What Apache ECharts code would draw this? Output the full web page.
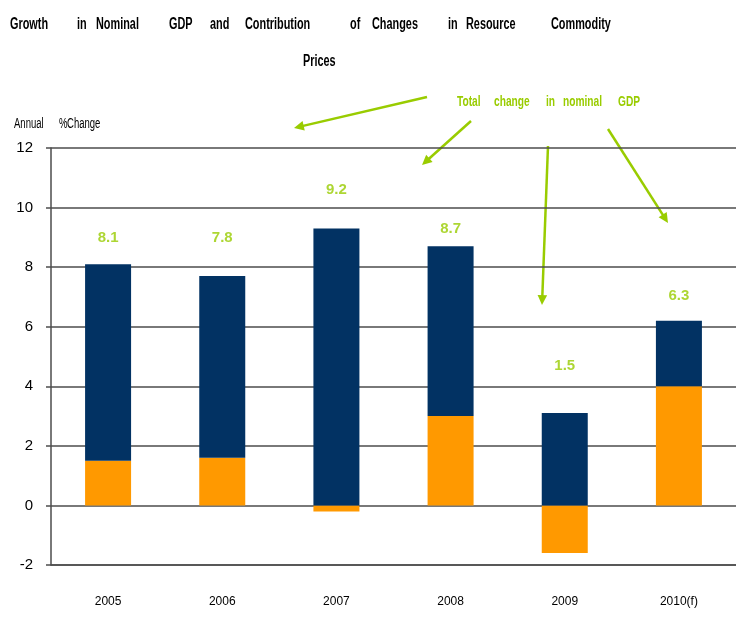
<!DOCTYPE html>
<html>
<head>
<meta charset="utf-8">
<script src="https://cdn.jsdelivr.net/npm/echarts@6/dist/echarts.min.js"></script>
<style>
  html, body { margin: 0; padding: 0; background: #ffffff; }
  #gdpChart { width: 736px; height: 617px; }
</style>
</head>
<body>
<div id="gdpChart"></div>
<script>
// data
let years = ["2005", "2006", "2007", "2008", "2009", "2010(f)"];
let commodityContribution = [1.5, 1.6, -0.2, 3.0, -1.6, 4.0];
let otherContribution = [6.6, 6.1, 9.3, 5.7, 3.1, 2.2];
let totalLabels = ["8.1", "7.8", "9.2", "8.7", "1.5", "6.3"];
let labelHeights = [8.97, 8.97, 10.6, 9.3, 4.67, 7.05];
let yTicks = { min: -2, max: 12, step: 2 };

let font = "'Liberation Sans', Arial, sans-serif";
let green = "#99cc00";

// title words are spread out like the justified text in the original
let titleWords = [
  ["Growth", 10, 25], ["in", 77, 25], ["Nominal", 96, 25], ["GDP", 169, 25],
  ["and", 210, 25], ["Contribution", 245, 25], ["of", 350, 25], ["Changes", 372, 25],
  ["in", 448, 25], ["Resource", 466, 25], ["Commodity", 551, 25], ["Prices", 303, 62]
];
let noteWords = [["Total", 457], ["change", 494], ["in", 546], ["nominal", 563], ["GDP", 618]];
let unitWords = [["Annual", 14], ["%", 59], ["Change", 67]];
let arrows = [
  [427, 97, 294, 128],
  [471, 121, 422, 165],
  [548, 146, 542, 305],
  [608, 129, 668, 223]
];

function narrowText(text, x, y, size, weight, color) {
  return {
    type: "text", x: x, y: y, scaleX: 0.68,
    style: {
      text: text, font: weight + " " + size + "px " + font, fill: color,
      textAlign: "left", textVerticalAlign: "middle"
    }
  };
}

let graphics = [];
for (let w of titleWords) {
  graphics.push(narrowText(w[0], w[1], w[2], 16, "bold", "#000000"));
}
for (let w of noteWords) {
  graphics.push(narrowText(w[0], w[1], 102, 15, "bold", green));
}
for (let w of unitWords) {
  graphics.push(narrowText(w[0], w[1], 124, 14, "normal", "#000000"));
}
for (let a of arrows) {
  let ang = Math.atan2(a[3] - a[1], a[2] - a[0]);
  let len = 11, spread = 0.45;
  graphics.push({
    type: "line",
    shape: { x1: a[0], y1: a[1], x2: a[2] - Math.cos(ang) * 6, y2: a[3] - Math.sin(ang) * 6 },
    style: { stroke: green, lineWidth: 2.5 }
  });
  graphics.push({
    type: "polygon",
    shape: {
      points: [
        [a[2], a[3]],
        [a[2] - len * Math.cos(ang - spread), a[3] - len * Math.sin(ang - spread)],
        [a[2] - len * Math.cos(ang + spread), a[3] - len * Math.sin(ang + spread)]
      ]
    },
    style: { fill: green }
  });
}

let option = {
  backgroundColor: "#ffffff",
  animation: false,
  grid: { left: 51, top: 148, width: 690, height: 417 },
  xAxis: {
    type: "category",
    data: years,
    axisLine: { onZero: false, lineStyle: { color: "#4d4d4d", width: 1.5 } },
    axisTick: { length: 7, lineStyle: { color: "#4d4d4d", width: 1.5 } },
    axisLabel: { margin: 31, color: "#000000", fontSize: 12, fontFamily: font }
  },
  yAxis: {
    type: "value",
    min: yTicks.min,
    max: yTicks.max,
    interval: yTicks.step,
    axisLine: { show: true, lineStyle: { color: "#4d4d4d", width: 1.5 } },
    axisTick: { show: true, length: 5, lineStyle: { color: "#4d4d4d", width: 1.5 } },
    axisLabel: { margin: 18, color: "#000000", fontSize: 15, fontFamily: font },
    splitLine: { lineStyle: { color: "#4d4d4d", width: 1.5 } }
  },
  series: [
    {
      name: "Resource commodity prices",
      type: "bar",
      stack: "gdp",
      barWidth: 46,
      data: commodityContribution,
      itemStyle: { color: "#ff9900" }
    },
    {
      name: "Other",
      type: "bar",
      stack: "gdp",
      barWidth: 46,
      data: otherContribution,
      itemStyle: { color: "#023263" }
    },
    {
      name: "Total change",
      type: "scatter",
      symbolSize: 1,
      itemStyle: { color: "rgba(0,0,0,0)" },
      data: labelHeights.map((v, i) => [years[i], v]),
      label: {
        show: true,
        position: "inside",
        formatter: p => totalLabels[p.dataIndex],
        color: green,
        fontWeight: "bold",
        fontSize: 15,
        fontFamily: font
      }
    }
  ],
  graphic: graphics
};

let chart = echarts.init(document.getElementById("gdpChart"));
chart.setOption(option, true);
</script>
</body>
</html>
